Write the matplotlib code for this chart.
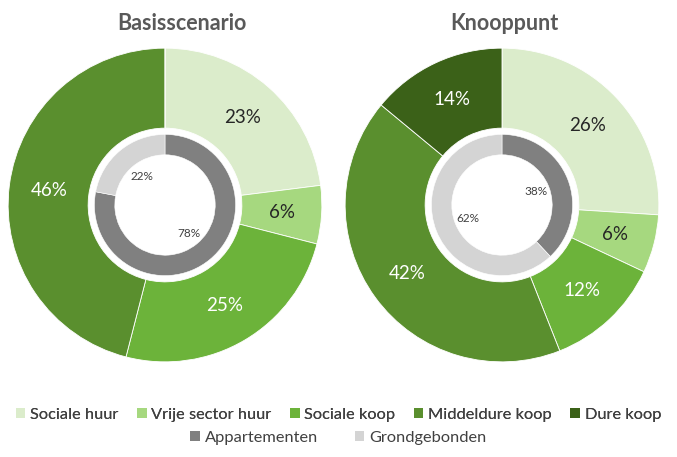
import matplotlib
matplotlib.use('Agg')
import matplotlib.pyplot as plt
from matplotlib.patches import Patch
import numpy as np

plt.rcParams['font.family'] = ['Lato', 'DejaVu Sans']

# categorieen buitenring
cats = ['Sociale huur', 'Vrije sector huur', 'Sociale koop', 'Middeldure koop', 'Dure koop']
cat_colors = ['#dbeccb', '#a6d87f', '#6cb33a', '#5a8f2e', '#3b6118']
basis = [23, 6, 25, 46, 0]
knoop = [26, 6, 12, 42, 14]

# binnenring
types = ['Appartementen', 'Grondgebonden']
type_colors = ['#808080', '#d4d4d4']
basis_type = [78, 22]
knoop_type = [38, 62]

titles = ['Basisscenario', 'Knooppunt']

W, H = 677, 457
fig = plt.figure(figsize=(W / 100, H / 100), dpi=100)

def donut(ax, outer, inner):
    lab_col = ['#262626', '#262626', 'white', 'white', 'white']
    ax.pie(outer, colors=cat_colors, radius=1, startangle=90, counterclock=False,
           wedgeprops=dict(width=0.51, edgecolor='white', linewidth=0.6))
    tot = sum(outer)
    ang = 90
    for v, c in zip(outer, lab_col):
        if v == 0:
            continue
        mid = np.deg2rad(ang - 360 * v / tot / 2)
        ax.text(0.745 * np.cos(mid), 0.745 * np.sin(mid), f'{v}%', ha='center', va='center',
                fontsize=13.5, color=c)
        ang -= 360 * v / tot
    ax.pie(inner, colors=type_colors, radius=0.45, startangle=90, counterclock=False,
           wedgeprops=dict(width=0.13, edgecolor='white', linewidth=0.4))
    tot = sum(inner)
    ang = 90
    for v in inner:
        mid = np.deg2rad(ang - 360 * v / tot / 2)
        ax.text(0.235 * np.cos(mid), 0.235 * np.sin(mid), f'{v}%', ha='center', va='center',
                fontsize=8.5, color='#404040')
        ang -= 360 * v / tot
    ax.set_xlim(-1.02, 1.02)
    ax.set_ylim(-1.02, 1.02)
    ax.set_aspect('equal')
    ax.axis('off')

ax1 = fig.add_axes([5 / W, 92 / H, 320 / W, 320 / H])
ax2 = fig.add_axes([342 / W, 92 / H, 320 / W, 320 / H])
donut(ax1, basis, basis_type)
donut(ax2, knoop, knoop_type)

fig.text(182 / W, 1 - 23 / H, titles[0], ha='center', va='center', fontsize=15.5,
         fontweight='bold', color='#595959')
fig.text(504 / W, 1 - 23 / H, titles[1], ha='center', va='center', fontsize=15.5,
         fontweight='bold', color='#595959')

h1 = [Patch(facecolor=c, label=l) for c, l in zip(cat_colors, cats)]
h2 = [Patch(facecolor=c, label=l) for c, l in zip(type_colors, types)]
leg1 = fig.legend(handles=h1, loc='center', bbox_to_anchor=(0.5, 1 - 415 / H), ncol=5,
                  frameon=False, fontsize=11.8, handlelength=0.6, handleheight=0.6,
                  handletextpad=0.3, columnspacing=1.1, labelcolor='#404040')
fig.add_artist(leg1)
fig.legend(handles=h2, loc='center', bbox_to_anchor=(0.5, 1 - 438 / H), ncol=2,
           frameon=False, fontsize=11.8, handlelength=0.6, handleheight=0.6,
           handletextpad=0.3, columnspacing=2.2, labelcolor='#404040')

fig.savefig('out.png', dpi=100)
